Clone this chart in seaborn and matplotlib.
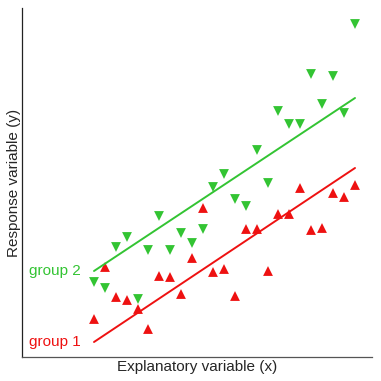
"""
Two groups with parallel fitted lines (ANCOVA style sketch).
"""

import pandas as pd
import matplotlib
matplotlib.use('Agg')
import matplotlib.pyplot as plt
import seaborn as sns

#
#  Data
#

xvals = [7.2, 8.3, 9.4, 10.5, 11.6, 12.6, 13.7, 14.8, 15.9, 17.0, 18.1, 19.1, 20.2,
         21.3, 22.4, 23.5, 24.6, 25.6, 26.7, 27.8, 28.9, 30.0, 31.1, 32.2, 33.3]

group1 = [3.8, 9.0, 6.0, 5.7, 4.8, 2.8, 8.1, 8.0, 6.3, 9.9, 14.9, 8.5, 8.8,
          6.1, 12.8, 12.8, 8.6, 14.3, 14.3, 16.9, 12.7, 12.9, 16.4, 16.0, 17.2]

group2 = [7.5, 6.9, 11.0, 12.0, 5.8, 10.7, 14.1, 10.7, 12.4, 11.4, 12.8, 17.0, 18.3,
          15.8, 15.1, 20.7, 17.4, 24.6, 23.3, 23.3, 28.3, 25.3, 28.1, 24.4, 33.3]

fit_x = [7.2, 33.3]
fit1 = [1.5, 18.9]
fit2 = [8.6, 25.9]

red = '#ee1111'
green = '#33c433'

#
#  Build the tables
#

pts = pd.concat({
    'group 1': pd.DataFrame({'x': xvals, 'y': group1}),
    'group 2': pd.DataFrame({'x': xvals, 'y': group2}),
    })
pts = pts.reset_index(0).rename(columns={'level_0': 'group'})

fits = pd.concat({
    'group 1': pd.DataFrame({'x': fit_x, 'y': fit1}),
    'group 2': pd.DataFrame({'x': fit_x, 'y': fit2}),
    })
fits = fits.reset_index(0).rename(columns={'level_0': 'group'})

pal = {'group 1': red, 'group 2': green}

#
#  Draw
#

sns.set_style('white')
plt.rcParams['font.family'] = ['Liberation Sans', 'DejaVu Sans']

fig = plt.figure(figsize=(3.81, 3.81), dpi=100)
ax = fig.add_axes([22/381, 24/381, 350/381, 349/381])

sns.lineplot(data=fits, x='x', y='y', hue='group', palette=pal,
             linewidth=1.4, legend=False, ax=ax)

sns.scatterplot(data=pts, x='x', y='y', hue='group', style='group',
                markers={'group 1': '^', 'group 2': 'v'}, palette=pal,
                s=50, linewidth=0, legend=False, ax=ax)

ax.set_xlim(0, 35)
ax.set_ylim(0, 34.9)
ax.set_xticks([])
ax.set_yticks([])

for side in ['top', 'right']:
    ax.spines[side].set_visible(False)
ax.spines['left'].set_color('#222222')
ax.spines['bottom'].set_color('#555555')
ax.spines['left'].set_linewidth(0.9)
ax.spines['bottom'].set_linewidth(0.9)

ax.set_xlabel('Explanatory variable (x)', fontsize=11, labelpad=2)
ax.set_ylabel('Response variable (y)', fontsize=11, labelpad=1)

ax.text(fit_x[0] - 1.3, fit2[0], 'group 2', color=green, fontsize=11,
        ha='right', va='center')
ax.text(fit_x[0] - 1.3, fit1[0], 'group 1', color=red, fontsize=11,
        ha='right', va='center')

fig.savefig('out.png', dpi=100)
